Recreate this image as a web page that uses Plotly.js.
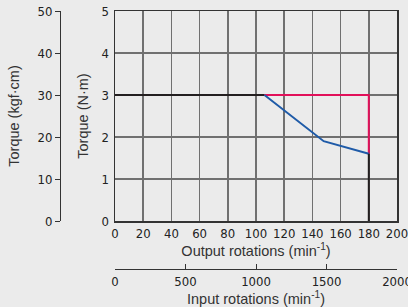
<!DOCTYPE html>
<html><head><meta charset="utf-8">
<script src="https://cdn.plot.ly/plotly-3.0.1.min.js"></script>
<style>html,body{margin:0;padding:0;background:#ebebeb;}#c{width:408px;height:307px;}</style>
</head><body><div id="c"></div>
<script>
// Data (output rotations in min^-1, torque in N·m)
var ratedX = [0, 106];
var ratedY = [3, 3];
var blueX = [106, 148, 180];
var blueY = [3, 1.9, 1.6];
var redX = [106, 180, 180];
var redY = [3, 3, 1.6];
var dropX = [180, 180];
var dropY = [1.6, 0];

var outTicks = [0,20,40,60,80,100,120,140,160,180,200];
var nmTicks = [0,1,2,3,4,5];
var kgfTicks = [0,10,20,30,40,50];
var inTicks = [0,500,1000,1500,2000];

var W = 408, H = 307;
var L = 0, R = 11, T = 11, B = 0;
var pw = W - L - R, ph = H - T - B;
var plotLeft = 115, plotBottom = 221;

var tickFont = {family: '"Liberation Sans Narrow","DejaVu Sans Condensed",sans-serif', size: 13, color: '#222'};
var titleFont = {family: '"Liberation Sans","Arial",sans-serif', size: 14.5, color: '#333'};

var traces = [
  {x: ratedX, y: ratedY, mode: 'lines', line: {color: '#231f20', width: 2}, hoverinfo: 'skip'},
  {x: redX, y: redY, mode: 'lines', line: {color: '#e2105a', width: 2}, hoverinfo: 'skip'},
  {x: blueX, y: blueY, mode: 'lines', line: {color: '#1f5ba8', width: 2}, hoverinfo: 'skip'},
  {x: dropX, y: dropY, mode: 'lines', line: {color: '#231f20', width: 2}, hoverinfo: 'skip'},
  {x: [], y: [], xaxis: 'x2', yaxis: 'y2', hoverinfo: 'skip'}
];

var layout = {
  width: W, height: H,
  margin: {l: L, r: R, t: T, b: B, pad: 0},
  paper_bgcolor: '#ebebeb', plot_bgcolor: '#ebebeb',
  showlegend: false,
  xaxis: {
    domain: [(plotLeft - L)/pw, 1],
    range: [0, 200], tickvals: outTicks, ticktext: outTicks.map(String),
    showgrid: true, gridcolor: '#707070', gridwidth: 1.5,
    showline: true, linecolor: '#333', linewidth: 1.5, mirror: true,
    ticks: '', tickfont: tickFont, zeroline: false, ticklabeloverflow: 'allow',
    title: {text: 'Output rotations (min<sup>-1</sup>)', font: titleFont, standoff: 1}
  },
  yaxis: {
    domain: [(H - plotBottom)/ph, 1],
    range: [0, 5], tickvals: nmTicks, ticktext: nmTicks.map(String),
    showgrid: true, gridcolor: '#707070', gridwidth: 1.5,
    showline: true, linecolor: '#333', linewidth: 1.5, mirror: true,
    ticks: '', tickfont: tickFont, zeroline: false, ticklabelstandoff: 2,
    title: {text: 'Torque (N·m)', font: titleFont, standoff: 9}
  },
  yaxis2: {
    overlaying: 'y', anchor: 'free', position: 60/pw, side: 'left',
    range: [0, 50], tickvals: kgfTicks, ticktext: kgfTicks.map(String),
    showgrid: false, zeroline: false,
    showline: true, linecolor: '#333', linewidth: 1,
    ticks: 'outside', ticklen: 5, tickcolor: '#333', tickwidth: 1,
    tickfont: tickFont,
    title: {text: 'Torque (kgf·cm)', font: titleFont, standoff: 13}
  },
  xaxis2: {
    overlaying: 'x', anchor: 'free', position: (H - 269)/ph, side: 'bottom',
    range: [0, 2000], tickvals: inTicks, ticktext: inTicks.map(String),
    showgrid: false, zeroline: false, ticklabeloverflow: 'allow',
    showline: true, linecolor: '#333', linewidth: 1,
    ticks: 'inside', ticklen: 5, tickcolor: '#333', tickwidth: 1,
    tickfont: tickFont,
    title: {text: 'Input rotations (min<sup>-1</sup>)', font: titleFont, standoff: 0}
  }
};

Plotly.newPlot('c', traces, layout, {displayModeBar: false, staticPlot: true});
</script>
</body></html>
